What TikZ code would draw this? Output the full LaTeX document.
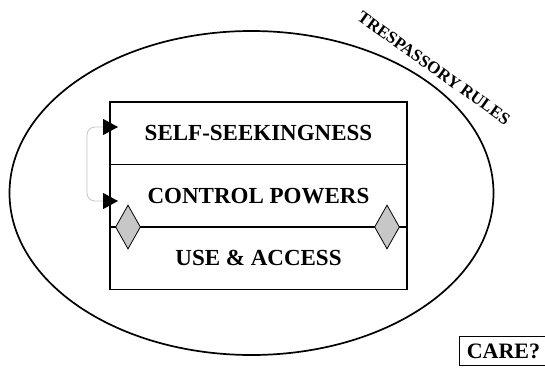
\documentclass[tikz,border=0pt]{standalone}
\usepackage{fontspec}
\setmainfont{Liberation Serif}
\usetikzlibrary{shapes.geometric,arrows.meta}

\begin{document}
\begin{tikzpicture}[x=1pt,y=-1pt,
  row/.style={draw, line width=1.5pt, minimum width=297pt, minimum height=62.5pt, inner sep=0pt,
    font=\fontsize{23}{27}\selectfont\bfseries},
  gem/.style={diamond, draw, fill=black!22, line width=0.8pt, minimum width=25pt, minimum height=44pt, inner sep=0pt},
  wedge/.tip={Triangle[length=15pt,width=16pt,color=black,fill=black]}]

\useasboundingbox (0,0) rectangle (545,372);

\draw[line width=1.7pt] (251.5,193) ellipse (242pt and 162pt);

\node[rotate=-35.5, font=\fontsize{17}{20}\selectfont\bfseries] (tres) at (434,68) {TRESPASSORY RULES};

\node[row] (seek) at (258.5,133.25) {SELF-SEEKINGNESS};
\node[row] (ctrl) at (258.5,195.75) {CONTROL POWERS};
\node[row] (use) at (258.5,258.25) {USE \& ACCESS};

\node[gem] (gl) at (128,227) {};
\node[gem] (gr) at (387,227) {};

\coordinate (a1) at (118,127);
\coordinate (a2) at (118,201);
\draw[gray!45, line width=0.8pt, rounded corners=8pt, wedge-wedge] (a1) -- ++(-31,0) |- (a2);

\node[draw, line width=1.2pt, inner sep=7pt, font=\fontsize{22}{26}\selectfont\bfseries] (care) at (503.5,351) {CARE?};

\end{tikzpicture}
\end{document}
